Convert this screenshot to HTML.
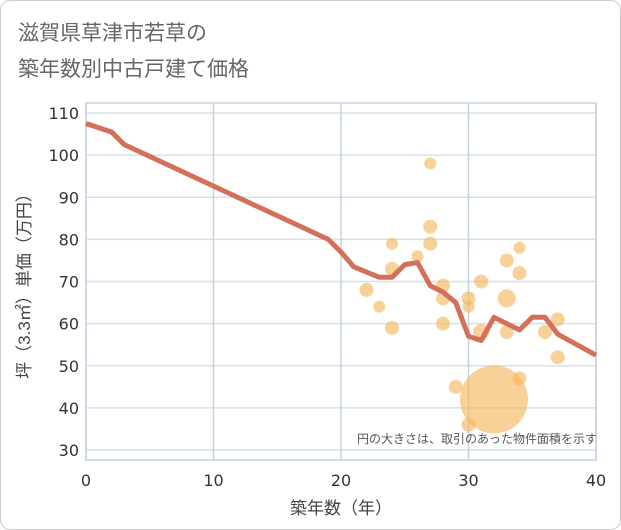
<!DOCTYPE html>
<html><head><meta charset="utf-8"><style>
body{margin:0;background:#fff;font-family:"Liberation Sans","Noto Sans CJK JP",sans-serif;}
#wrap{position:absolute;left:0;top:0;width:619px;height:528px;border:1px solid #ccc;border-radius:10px;background:#fff;}
</style></head><body>
<div id="wrap">
<svg id="c" width="621" height="530" style="position:absolute;left:-1px;top:-1px">
<text x="18" y="40" font-size="21" fill="#666">滋賀県草津市若草の</text>
<text x="18" y="76" font-size="21" fill="#666">築年数別中古戸建て価格</text>
<g id="grid"></g><g id="pts"></g><g id="ln"></g><g id="ax"></g>
<text x="597" y="443" font-size="12" fill="#555" text-anchor="end">円の大きさは、取引のあった物件面積を示す</text>
<text x="341" y="514" font-size="17" fill="#444" text-anchor="middle">築年数（年）</text>
<text transform="translate(30,282) rotate(-90)" font-size="17" fill="#444" text-anchor="middle">坪（3.3㎡）単価（万円）</text>
</svg></div>
<script>
const xTicks=[0,10,20,30,40];
const yTicks=[30,40,50,60,70,80,90,100,110];
const ptAge=[22,23,24,24,24,26,27,27,27,28,28,28,29,30,30,30,31,31,32,33,33,33,34,34,34,36,37,37];
const ptPrice=[68,64,79,73,59,76,98,83,79,69,66,60,45,66,64,36,70,58,42,75,66,58,78,72,47,58,61,52];
const ptR=[7,6,6,7,7,6,6,7,7,7,7,7,7,7,6,7,7,8,34,7,9,7,6,7,7,7,7,7];
const lineAge=[0,2,3,19,20,21,23,24,25,26,27,28,29,30,31,32,34,35,36,37,40];
const linePrice=[107.5,105.5,102.5,80,77,73.5,71,71,74,74.5,69,67.5,65,57,56,61.5,58.5,61.5,61.5,57.5,52.5];
const X=v=>86+v*12.75, Y=v=>450-(v-30)*4.2125;
const ns="http://www.w3.org/2000/svg";
const TF='"DejaVu Sans","Liberation Sans",sans-serif';
function mk(t,a,p){const e=document.createElementNS(ns,t);for(const k in a)e.setAttribute(k,a[k]);p.appendChild(e);return e;}
const g=document.getElementById('grid'),ax=document.getElementById('ax');
yTicks.forEach(v=>{const l=mk('line',{x1:86,x2:596,y1:Y(v),y2:Y(v),stroke:'#d5e0ea','stroke-width':1.5},g);


const t=mk('text',{x:79,y:Y(v)+6,'font-size':16,fill:'#333','text-anchor':'end','font-family':TF},ax);t.textContent=v;

});
xTicks.forEach(v=>{const l=mk('line',{x1:X(v),x2:X(v),y1:103,y2:460,stroke:'#c5d3e0','stroke-width':1.5},g);


const t=mk('text',{x:X(v),y:486,'font-size':16,fill:'#333','text-anchor':'middle','font-family':TF},ax);t.textContent=v;

});
const b=mk('rect',{x:86,y:103,width:510,height:357,fill:'none',stroke:'#c5d3e0','stroke-width':1.5},g);


const P=document.getElementById('pts');
ptAge.forEach((a,i)=>{const c=mk('circle',{cx:X(a),cy:Y(ptPrice[i]),r:ptR[i],fill:'rgba(242,185,95,0.65)'},P);

});
const pl=mk('polyline',{points:lineAge.map((a,i)=>X(a)+','+Y(linePrice[i])).join(' '),fill:'none',stroke:'#d4705a','stroke-width':5,'stroke-linejoin':'round'},document.getElementById('ln'));


</script></body></html>
